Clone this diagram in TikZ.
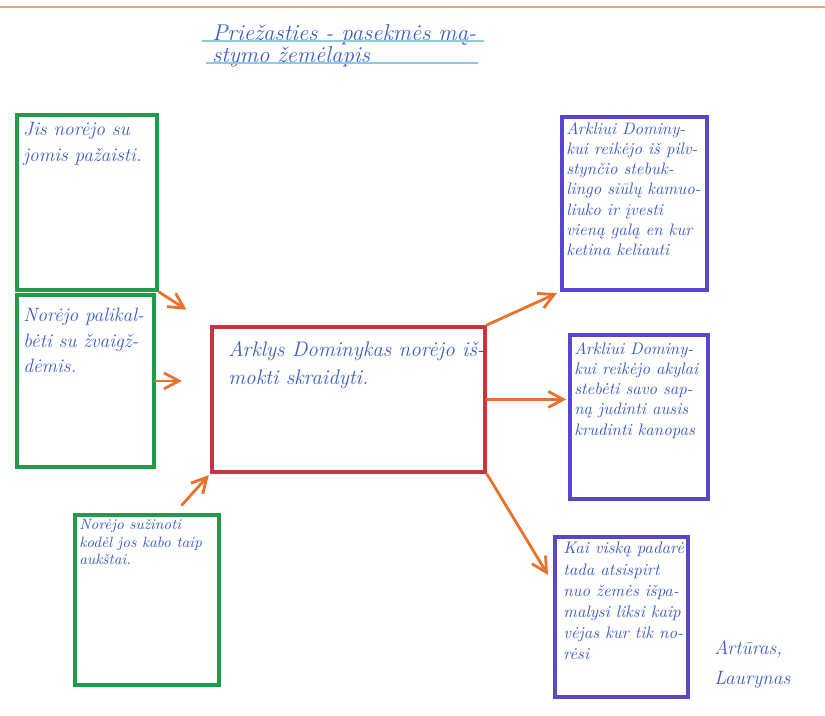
\documentclass[tikz,border=0pt]{standalone}
\usepackage{tikz}
\usetikzlibrary{arrows.meta,calc,positioning}
\usepackage{xcolor}
\definecolor{boxgreen}{HTML}{1E9E4A}
\definecolor{boxred}{HTML}{C7353F}
\definecolor{boxviolet}{HTML}{5847C9}
\definecolor{arrowor}{HTML}{E8712C}
\definecolor{penblue}{HTML}{3C5DC4}
\definecolor{lineblue}{HTML}{8ECBE3}
\definecolor{edgeor}{HTML}{F2A477}
\begin{document}
\begin{tikzpicture}[x=0.02cm,y=-0.02cm,
  box/.style={draw,line width=2.2pt,anchor=north west,inner sep=0pt},
  hand/.style={anchor=north west,inner sep=0pt,align=left,text=penblue},
  link/.style={-{Straight Barb[length=3mm,width=3.2mm]},arrowor,line width=1.6pt,line cap=round}]
\useasboundingbox (0,0) rectangle (825,716);
\draw[edgeor,line width=1.2pt] (0,7)--(825,7);
\foreach \nm/\x/\y/\w/\h/\col in {g1/15/113/2.8/3.5/boxgreen,g2/15/293/2.74/3.44/boxgreen,g3/73/513/2.88/3.4/boxgreen,r/210/325/5.46/2.9/boxred,p1/560/115/2.9/3.46/boxviolet,p2/568/333/2.76/3.28/boxviolet,p3/553/535/2.66/3.2/boxviolet}
{
\node[box,\col,minimum width=\w cm,minimum height=\h cm] (\nm) at (\x,\y) {};
}
\node[hand,font=\itshape\fontsize{13}{12.5}\selectfont] (title) at (212,24) {Priežasties - pasekmės mą-\\stymo žemėlapis};
\draw[lineblue,line width=1pt] ($(title.north west)+(-10,17)$) -- ++(282,0);
\draw[lineblue,line width=1pt] ($(title.north west)+(-6,39)$) -- ++(272,0);
\node[hand,font=\itshape\fontsize{11}{15}\selectfont] (t1) at ($(g1.north west)+(8,9)$) {Jis norėjo su\\jomis pažaisti.};
\node[hand,font=\itshape\fontsize{11}{14.5}\selectfont] (t2) at ($(g2.north west)+(8,15)$) {Norėjo palikal-\\bėti su žvaigž-\\dėmis.};
\node[hand,font=\itshape\fontsize{8.5}{10}\selectfont] (t3) at ($(g3.north west)+(6,6)$) {Norėjo sužinoti\\kodėl jos kabo taip\\aukštai.};
\node[hand,font=\itshape\fontsize{12}{16}\selectfont] (tr) at ($(r.north west)+(18,16)$) {Arklys Dominykas norėjo iš-\\mokti skraidyti.};
\node[hand,font=\itshape\fontsize{9.5}{11.5}\selectfont] (s1) at ($(p1.north west)+(6,7)$) {Arkliui Dominy-\\kui reikėjo iš pilv-\\stynčio stebuk-\\lingo siūlų kamuo-\\liuko ir įvesti\\vieną galą en kur\\ketina keliauti};
\node[hand,font=\itshape\fontsize{9.5}{11.5}\selectfont] (s2) at ($(p2.north west)+(6,9)$) {Arkliui Dominy-\\kui reikėjo akylai\\stebėti savo sap-\\ną judinti ausis\\krudinti kanopas};
\node[hand,font=\itshape\fontsize{9.5}{12}\selectfont] (s3) at ($(p3.north west)+(10,7)$) {Kai viską padarė\\tada atsispirt\\nuo žemės išpa-\\malysi liksi kaip\\vėjas kur tik no-\\rėsi};
\node[hand,font=\itshape\fontsize{11}{17}\selectfont] (sign) at (714,640) {Artūras,\\Laurynas};
\draw[link,shorten >=16pt] (g1.south east) -- (r.north west);
\draw[link,shorten >=16pt] (g2.east) -- (g2.east -| r.west);
\draw[link,shorten >=1pt] ($(g3.north)+(35,-8)$) -- (r.south west);
\draw[link,shorten >=2pt] (r.north east) -- (p1.south west);
\draw[link,shorten >=1pt] (r.east) -- (r.east -| p2.west);
\draw[link] (r.south east) -- ($(p3.north west)+(-5,40)$);
\end{tikzpicture}
\end{document}
